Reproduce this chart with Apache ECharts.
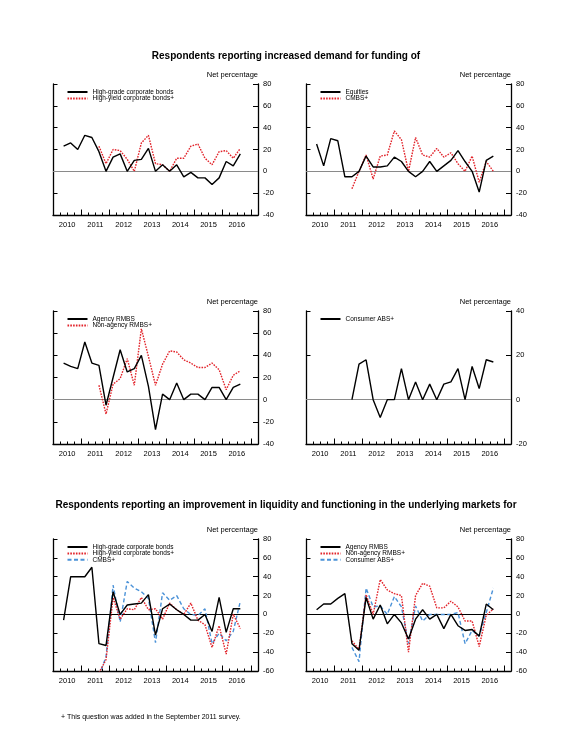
<!DOCTYPE html>
<html lang="en">
<head>
  <meta charset="UTF-8">
  <title>Dealer financing terms - demand and liquidity</title>
  <script src="https://cdn.jsdelivr.net/npm/echarts@6/dist/echarts.min.js"></script>
  <style>
    body {
      margin: 0;
      background: #fff;
    }

    #chart {
      width: 572px;
      height: 750px;
    }
  </style>
</head>
<body>
  <div id="chart"></div>

  <script>
    // survey dates, one per quarter
    const quarters = ['2010Q2', '2010Q3', '2010Q4',
      '2011Q1', '2011Q2', '2011Q3', '2011Q4',
      '2012Q1', '2012Q2', '2012Q3', '2012Q4',
      '2013Q1', '2013Q2', '2013Q3', '2013Q4',
      '2014Q1', '2014Q2', '2014Q3', '2014Q4',
      '2015Q1', '2015Q2', '2015Q3', '2015Q4',
      '2016Q1', '2016Q2', '2016Q3'];
    const yearLabels = ['2010', '2011', '2012', '2013', '2014', '2015', '2016'];

    // increased demand for funding (net percentage)
    const hgDemand = [23, 26, 20, 33, 31, 18, 0, 13, 16, 0, 10, 11, 21, 0, 6, 0, 6, -5, -1, -6, -6, -12, -6, 9, 5, 16];
    const hyDemand = [null, null, null, null, null, 23, 7, 20, 19, 11, 0, 26, 33, 7, 6, 0, 12, 12, 23, 25, 12, 6, 18, 19, 12, 21];
    const equitiesDemand = [25, 5, 30, 28, -5, -5, 0, 14, 4, 4, 5, 13, 9, 0, -5, 0, 9, 0, 5, 10, 19, 9, 0, -19, 10, 14];
    const cmbsDemand = [null, null, null, null, null, -16, 0, 15, -7, 14, 15, 37, 29, 0, 31, 15, 13, 21, 13, 17, 7, 0, 14, -10, 9, 0];
    const agencyDemand = [33, 30, 28, 52, 33, 31, -5, 20, 45, 25, 28, 40, 12, -27, 5, 0, 15, 0, 5, 5, 0, 11, 11, 0, 11, 14];
    const nonAgencyDemand = [null, null, null, null, null, 13, -13, 14, 19, 37, 13, 64, 39, 13, 32, 44, 43, 36, 33, 29, 29, 33, 27, 9, 22, 26];
    const consumerDemand = [null, null, null, null, null, 0, 16, 18, 0, -8, 0, 0, 14, 0, 8, 0, 7, 0, 7, 8, 14, 0, 15, 5, 18, 17];

    // improvement in liquidity and functioning (net percentage)
    const hgLiquidity = [-6, 40, 40, 40, 50, -31, -33, 24, 0, 10, 11, 12, 21, -22, 6, 11, 5, 0, -6, -6, 0, -18, 18, -19, 6, 6];
    const hyLiquidity = [null, null, null, null, null, -62, -48, 18, -5, 6, 5, 18, 5, 6, -5, 12, 5, 0, 12, -6, -11, -35, -12, -42, 0, -15];
    const cmbsLiquidity = [null, null, null, null, null, -65, -45, 31, -8, 35, 28, 24, 17, -30, 23, 15, 20, 6, 0, -1, 6, -31, -20, -28, -18, 14];
    const agencyLiquidity = [5, 11, 11, 17, 22, -31, -38, 18, -5, 10, -10, 0, -9, -26, -5, 5, -5, 0, -15, 0, -12, -17, -16, -23, 11, 5];
    const nonAgencyLiquidity = [null, null, null, null, null, -28, -37, 21, 0, 37, 26, 22, 20, -40, 20, 33, 30, 7, 7, 14, 8, -7, -7, -34, -1, 6];
    const consumerLiquidity = [null, null, null, null, null, -35, -50, 28, 8, 9, 0, 19, 8, -31, 9, -7, 0, 0, 0, 0, 2, -31, -17, -23, 2, 28];

    const lineStyles = {
      black: { color: '#000000', width: 1.4, type: 'solid' },
      red: { color: '#e2232a', width: 1.4, type: [1.6, 1.2] },
      blue: { color: '#4b92d8', width: 1.4, type: [4, 2.5] }
    };

    const font = 'Arial, "Liberation Sans", sans-serif';

    // quarter label -> position on the x scale (quarters since 2010Q1, mid-quarter)
    function toX(label) {
      const year = +label.slice(0, 4);
      const q = +label.slice(5);
      return (year - 2010) * 4 + q - 0.5;
    }

    const panels = [
      { left: 53, top: 84, height: 131, yMin: -40, yMax: 80, zero: '#8a8a8a',
        lines: [['High-grade corporate bonds', hgDemand, 'black'], ['High-yield corporate bonds+', hyDemand, 'red']] },
      { left: 306, top: 84, height: 131, yMin: -40, yMax: 80, zero: '#8a8a8a',
        lines: [['Equities', equitiesDemand, 'black'], ['CMBS+', cmbsDemand, 'red']] },
      { left: 53, top: 311, height: 133, yMin: -40, yMax: 80, zero: '#8a8a8a',
        lines: [['Agency RMBS', agencyDemand, 'black'], ['Non-agency RMBS+', nonAgencyDemand, 'red']] },
      { left: 306, top: 311, height: 133, yMin: -20, yMax: 40, zero: '#8a8a8a',
        lines: [['Consumer ABS+', consumerDemand, 'black']] },
      { left: 53, top: 539, height: 132, yMin: -60, yMax: 80, zero: '#000000',
        lines: [['High-grade corporate bonds', hgLiquidity, 'black'], ['High-yield corporate bonds+', hyLiquidity, 'red'], ['CMBS+', cmbsLiquidity, 'blue']] },
      { left: 306, top: 539, height: 132, yMin: -60, yMax: 80, zero: '#000000',
        lines: [['Agency RMBS', agencyLiquidity, 'black'], ['Non-agency RMBS+', nonAgencyLiquidity, 'red'], ['Consumer ABS+', consumerLiquidity, 'blue']] }
    ];

    const grid = [], xAxis = [], yAxis = [], series = [], legend = [];

    panels.forEach((p, i) => {
      grid.push({ left: p.left, top: p.top, width: 205, height: p.height });

      // quarter ticks with the axis line
      xAxis.push({
        type: 'value', gridIndex: i, position: 'bottom', min: 0, max: 29, interval: 1,
        axisLine: { onZero: false, lineStyle: { color: '#000', width: 1.3 } },
        axisTick: { inside: true, length: 2.5, lineStyle: { color: '#000', width: 1 } },
        axisLabel: { show: false }, splitLine: { show: false }
      });
      // year ticks
      xAxis.push({
        type: 'value', gridIndex: i, position: 'bottom', min: 0, max: 29, interval: 4,
        axisLine: { show: false, onZero: false },
        axisTick: { inside: true, length: 5.5, lineStyle: { color: '#000', width: 1 } },
        axisLabel: { show: false }, splitLine: { show: false }
      });
      // year labels, centred in each year
      xAxis.push({
        type: 'value', gridIndex: i, position: 'bottom', min: 0, max: 29, interval: 2,
        axisLine: { show: false, onZero: false }, axisTick: { show: false }, splitLine: { show: false },
        axisLabel: {
          fontSize: 7.5, fontFamily: font, color: '#000', margin: 6,
          formatter: v => (v % 4 === 2 ? yearLabels[(v - 2) / 4] : '')
        }
      });

      yAxis.push({
        type: 'value', gridIndex: i, position: 'right', min: p.yMin, max: p.yMax, interval: 20,
        name: 'Net percentage', nameLocation: 'end', nameGap: 5,
        nameTextStyle: { fontSize: 7.5, fontFamily: font, color: '#000', align: 'right', verticalAlign: 'bottom' },
        axisLine: { show: true, onZero: false, lineStyle: { color: '#000', width: 1.3 } },
        axisTick: { show: true, inside: true, length: 5, lineStyle: { color: '#000' } },
        axisLabel: { fontSize: 7.5, fontFamily: font, color: '#000', margin: 5 },
        splitLine: { show: false }
      });
      yAxis.push({
        type: 'value', gridIndex: i, position: 'left', min: p.yMin, max: p.yMax, interval: 20,
        axisLine: { show: true, onZero: false, lineStyle: { color: '#000', width: 1.3 } },
        axisTick: { show: true, inside: true, length: 4.5, lineStyle: { color: '#000' } },
        axisLabel: { show: false },
        splitLine: { show: false }
      });

      const names = [];
      p.lines.forEach(([name, values, style], j) => {
        const id = 'p' + i + '|' + name;
        names.push(id);
        const s = {
          name: id,
          type: 'line',
          xAxisIndex: i * 3,
          yAxisIndex: i * 2,
          data: values.map((v, k) => [toX(quarters[k]), v]),
          symbol: 'none',
          clip: true,
          lineStyle: lineStyles[style],
          z: 10 - j
        };
        if (j === 0) {
          s.markLine = {
            silent: true, symbol: 'none', label: { show: false },
            lineStyle: { color: p.zero, width: 1.2, type: 'solid' },
            data: [{ yAxis: 0 }]
          };
        }
        series.push(s);
      });

      legend.push({
        data: names,
        orient: 'vertical',
        left: p.left + 13.5,
        top: p.top + 4.5,
        padding: 0,
        itemWidth: 20,
        itemHeight: 5,
        itemGap: -0.6,
        selectedMode: false,
        itemStyle: { opacity: 0 },
        formatter: n => n.split('|')[1],
        textStyle: { fontSize: 6.5, fontFamily: font, color: '#000' }
      });
    });

    const option = {
      animation: false,
      backgroundColor: '#ffffff',
      title: [
        {
          text: 'Respondents reporting increased demand for funding of',
          left: 'center', top: 46,
          textStyle: { fontSize: 10, fontWeight: 'bold', fontFamily: font, color: '#000' }
        },
        {
          text: 'Respondents reporting an improvement in liquidity and functioning in the underlying markets for',
          left: 'center', top: 495,
          textStyle: { fontSize: 10, fontWeight: 'bold', fontFamily: font, color: '#000' }
        },
        {
          text: '+ This question was added in the September 2011 survey.',
          left: 56, top: 709,
          textStyle: { fontSize: 7, fontWeight: 'normal', fontFamily: font, color: '#000' }
        }
      ],
      legend: legend,
      grid: grid,
      xAxis: xAxis,
      yAxis: yAxis,
      series: series
    };

    const myChart = echarts.init(document.getElementById('chart'));
    myChart.setOption(option);
  </script>
</body>
</html>
